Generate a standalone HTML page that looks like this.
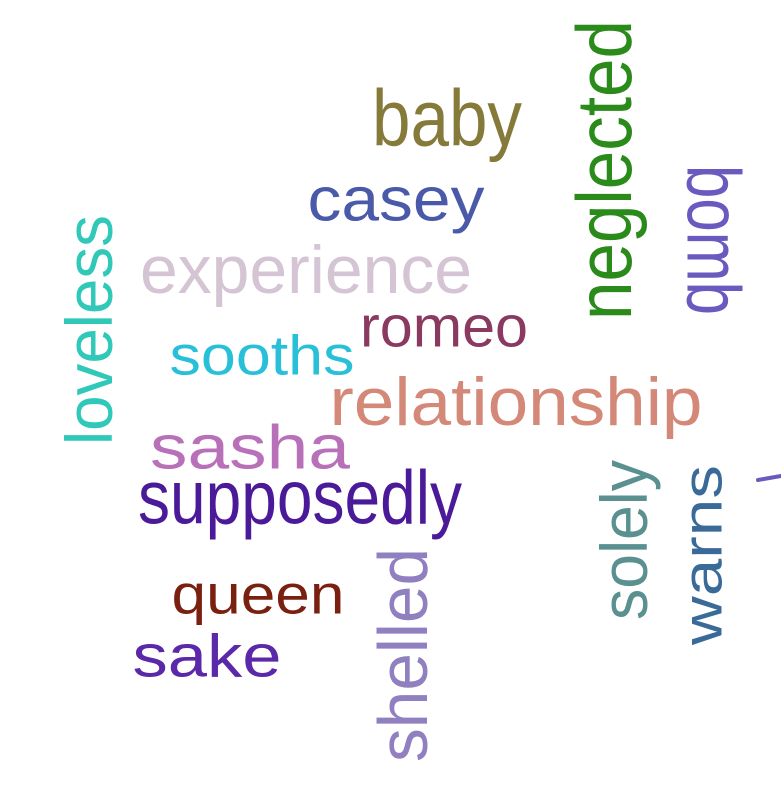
<!DOCTYPE html>
<html><head><meta charset="utf-8"><style>
html,body{margin:0;padding:0;background:#fff;}
svg{display:block;}
text{font-family:"Liberation Sans",sans-serif;text-anchor:middle;dominant-baseline:central;}
</style></head><body>
<svg width="781" height="800" viewBox="0 0 781 800">
<text x="447" y="118" font-size="80" textLength="150" lengthAdjust="spacingAndGlyphs" fill="#857a3a">baby</text>
<text x="396" y="200" font-size="62" textLength="177" lengthAdjust="spacingAndGlyphs" fill="#4a5aa8">casey</text>
<text x="306" y="270" font-size="68" textLength="332" lengthAdjust="spacingAndGlyphs" fill="#d4c4d4">experience</text>
<text x="604" y="170" font-size="78" textLength="300" lengthAdjust="spacingAndGlyphs" fill="#2a8a1a" transform="rotate(-90 604 170)">neglected</text>
<text x="713" y="240" font-size="76" textLength="150" lengthAdjust="spacingAndGlyphs" fill="#6a5ac0" transform="rotate(90 713 240)">bomb</text>
<text x="89" y="330" font-size="66" textLength="230" lengthAdjust="spacingAndGlyphs" fill="#30c8b8" transform="rotate(-90 89 330)">loveless</text>
<text x="262" y="355" font-size="56" textLength="185" lengthAdjust="spacingAndGlyphs" fill="#28c0d8">sooths</text>
<text x="444" y="327" font-size="58" textLength="168" lengthAdjust="spacingAndGlyphs" fill="#8a3a60">romeo</text>
<text x="516" y="402" font-size="68" textLength="373" lengthAdjust="spacingAndGlyphs" fill="#d48878">relationship</text>
<text x="250" y="448" font-size="62" textLength="200" lengthAdjust="spacingAndGlyphs" fill="#b870b8">sasha</text>
<text x="300" y="498" font-size="76" textLength="324" lengthAdjust="spacingAndGlyphs" fill="#4a1a98">supposedly</text>
<text x="624" y="540" font-size="66" textLength="160" lengthAdjust="spacingAndGlyphs" fill="#5a9090" transform="rotate(-90 624 540)">solely</text>
<text x="702" y="555" font-size="56" textLength="180" lengthAdjust="spacingAndGlyphs" fill="#3a6a98" transform="rotate(-90 702 555)">warns</text>
<text x="403" y="655" font-size="70" textLength="214" lengthAdjust="spacingAndGlyphs" fill="#9080c0" transform="rotate(-90 403 655)">shelled</text>
<text x="258" y="594" font-size="56" textLength="173" lengthAdjust="spacingAndGlyphs" fill="#7a2010">queen</text>
<text x="207" y="656" font-size="60" textLength="149" lengthAdjust="spacingAndGlyphs" fill="#5a28a8">sake</text>
<line x1="758" y1="480" x2="781" y2="476" stroke="#6a5ac0" stroke-width="4" stroke-linecap="round"/>
</svg>
</body></html>
